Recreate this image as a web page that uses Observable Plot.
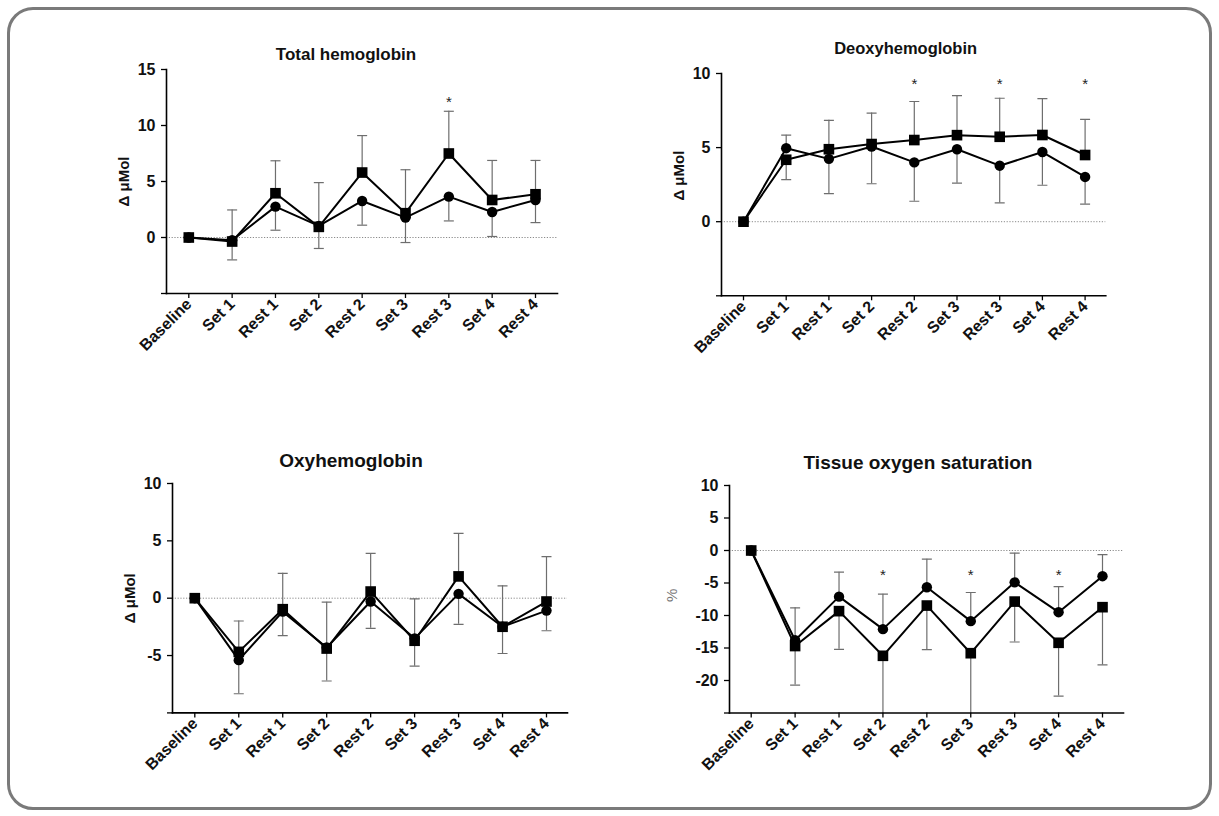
<!DOCTYPE html>
<html><head><meta charset="utf-8">
<script src="https://cdn.jsdelivr.net/npm/d3@7"></script>
<script src="https://cdn.jsdelivr.net/npm/@observablehq/plot@0.6"></script>
<style>
body{margin:0;background:#fff;}
#wrap{position:relative;width:1219px;height:816px;overflow:hidden;background:#fff;}
#border{position:absolute;left:7px;top:7px;width:1205px;height:803px;box-sizing:border-box;border:3px solid #7a7a7a;border-radius:26px;}
.panel{position:absolute;}
.panel svg{background:transparent;overflow:visible;}
</style></head><body><div id="wrap"><div id="border"></div></div>
<script>
const categories = ["Baseline","Set 1","Rest 1","Set 2","Rest 2","Set 3","Rest 3","Set 4","Rest 4"];

// Total hemoglobin (Δ µMol)
const thbSquare = [0, -0.36, 3.95, 0.95, 5.8, 2.17, 7.5, 3.35, 3.86];
const thbCircle = [0, -0.25, 2.76, 1.04, 3.26, 1.78, 3.65, 2.28, 3.35];
const thbUpper  = [null, 2.46, 6.85, 4.9, 9.1, 6.05, 11.27, 6.88, 6.88];
const thbLower  = [null, -2.0, 0.65, -0.98, 1.1, -0.45, 1.48, 0.09, 1.33];
const thbStars  = [6];
const thbStarY  = 12.4;
const thbTicks  = [-5, 0, 5, 10, 15];

// Deoxyhemoglobin (Δ µMol)
const hhbSquare = [0, 4.18, 4.89, 5.24, 5.51, 5.84, 5.73, 5.85, 4.5];
const hhbCircle = [0, 4.96, 4.24, 5.07, 4.0, 4.89, 3.78, 4.7, 3.02];
const hhbUpper  = [null, 5.84, 6.84, 7.33, 8.11, 8.51, 8.33, 8.3, 6.9];
const hhbLower  = [null, 2.84, 1.89, 2.56, 1.38, 2.6, 1.27, 2.46, 1.18];
const hhbStars  = [4, 6, 8];
const hhbStarY  = 9.5;
const hhbTicks  = [-5, 0, 5, 10];

// Oxyhemoglobin (Δ µMol)
const o2hbSquare = [0, -4.68, -0.96, -4.39, 0.58, -3.71, 1.9, -2.49, -0.29];
const o2hbCircle = [0, -5.4, -1.17, -4.3, -0.29, -3.5, 0.38, -2.49, -1.08];
const o2hbUpper  = [null, -1.99, 2.17, -0.35, 3.9, -0.06, 5.65, 1.08, 3.62];
const o2hbLower  = [null, -8.33, -3.27, -7.22, -2.63, -5.93, -2.28, -4.82, -2.84];
const o2hbStars  = [];
const o2hbStarY  = 0;
const o2hbTicks  = [-10, -5, 0, 5, 10];

// Tissue oxygen saturation (%)
const tsiSquare = [0, -14.7, -9.33, -16.2, -8.47, -15.8, -7.86, -14.2, -8.72];
const tsiCircle = [0, -13.8, -7.1, -12.1, -5.66, -10.87, -4.9, -9.49, -3.95];
const tsiUpper  = [null, -8.82, -3.33, -6.72, -1.33, -6.46, -0.41, -5.56, -0.62];
const tsiLower  = [null, -20.7, -15.2, -27, -15.26, -27, -14.08, -22.4, -17.6];
const tsiStars  = [3, 5, 7];
const tsiStarY  = -3.3;
const tsiTicks  = [-25, -20, -15, -10, -5, 0, 5, 10];

const FONT = '"Liberation Sans", Arial, Helvetica, sans-serif';
const ML = 80, MR = 25, MT = 60, MB = 100;

const capSymbol = {
  draw(ctx, size) { const w = Math.sqrt(size / Math.PI); ctx.moveTo(-w, 0); ctx.lineTo(w, 0); }
};

function panel(cfg) {
  const {title, yLabel, sq, ci, upper, lower, stars, starY, ticks, frame} = cfg;
  const [axX, firstX, lastX, endX, topY, botY] = frame;
  const step = (lastX - firstX) / (categories.length - 1);
  const lo = -(firstX - axX) / step;
  const hi = (categories.length - 1) + (endX - lastX) / step;
  const yMin = ticks[0], yMax = ticks[ticks.length - 1];
  const rows = categories.map((c, i) => ({i, c, sq: sq[i], ci: ci[i], up: upper[i], dn: lower[i]}));
  const eb = rows.filter(d => d.up != null);
  const starRows = stars.map(i => ({i, y: starY}));
  const chart = Plot.plot({
    width: endX - axX + ML + MR,
    height: botY - topY + MT + MB,
    marginLeft: ML, marginRight: MR, marginTop: MT, marginBottom: MB,
    x: {type: "linear", domain: [lo, hi]},
    y: {type: "linear", domain: [yMin, yMax]},
    style: {fontFamily: FONT, fontSize: "16px", fontWeight: "bold", color: "#111", background: "transparent", overflow: "visible"},
    marks: [
      Plot.ruleY([0], {stroke: "#8a8a8a", strokeWidth: 1, strokeDasharray: "1.2,1.6"}),
      Plot.ruleX(eb, {x: "i", y1: d => Math.max(d.sq, d.ci), y2: "up", stroke: "#6e6e6e", strokeWidth: 1.2, clip: true}),
      Plot.ruleX(eb, {x: "i", y1: d => Math.min(d.sq, d.ci), y2: "dn", stroke: "#6e6e6e", strokeWidth: 1.2, clip: true}),
      Plot.dot(eb, {x: "i", y: "up", symbol: capSymbol, r: 5, fill: "none", stroke: "#6e6e6e", strokeWidth: 1.2, clip: true}),
      Plot.dot(eb, {x: "i", y: "dn", symbol: capSymbol, r: 5, fill: "none", stroke: "#6e6e6e", strokeWidth: 1.2, clip: true}),
      Plot.line(rows, {x: "i", y: "ci", stroke: "#000", strokeWidth: 2}),
      Plot.line(rows, {x: "i", y: "sq", stroke: "#000", strokeWidth: 2}),
      Plot.dot(rows, {x: "i", y: "ci", r: 5.2, fill: "#000", stroke: "none"}),
      Plot.dot(rows, {x: "i", y: "sq", symbol: "square", r: 6, fill: "#000", stroke: "none"}),
      Plot.text(starRows, {x: "i", y: "y", text: () => "*", fontSize: 15, fontWeight: "normal", fill: "#222", dy: 3.5}),
      Plot.axisY({ticks, label: null, tickFormat: d => (d === yMin ? "" : String(d)), tickSize: 5, tickPadding: 6, fontSize: 16, fontWeight: "bold", stroke: "#000", strokeWidth: 1.3, fill: "#111"}),
      Plot.axisX({ticks: d3.range(categories.length), label: null, tickFormat: i => categories[i], tickRotate: -45, tickSize: 5, tickPadding: 3, fontSize: 16, fontWeight: "bold", stroke: "#000", strokeWidth: 1.3, fill: "#111"}),
      Plot.frame({anchor: "left", stroke: "#000", strokeWidth: 1.6}),
      Plot.frame({anchor: "bottom", stroke: "#000", strokeWidth: 1.6}),
      Plot.text([title], {frameAnchor: "top", lineAnchor: "bottom", dx: cfg.titleDx, dy: cfg.titleDy, fontSize: cfg.titleSize, fontWeight: "bold", fill: "#111"}),
      Plot.text([yLabel], {frameAnchor: "left", rotate: -90, textAnchor: "middle", lineAnchor: "middle", dx: cfg.labelDx, dy: cfg.labelDy, fontSize: 15, fontWeight: cfg.labelWeight, fill: cfg.labelColor})
    ]
  });
  const div = document.createElement("div");
  div.className = "panel";
  div.style.left = (axX - ML) + "px";
  div.style.top = (topY - MT) + "px";
  div.appendChild(chart);
  document.getElementById("wrap").appendChild(div);
}

panel({title: "Total hemoglobin", yLabel: "Δ μMol", sq: thbSquare, ci: thbCircle, upper: thbUpper, lower: thbLower,
  stars: thbStars, starY: thbStarY, ticks: thbTicks, frame: [166, 188.3, 535, 557, 69, 293],
  titleSize: 17, titleDx: -16, titleDy: -10, labelDx: -42, labelDy: 0, labelWeight: "bold", labelColor: "#111"});
panel({title: "Deoxyhemoglobin", yLabel: "Δ μMol", sq: hhbSquare, ci: hhbCircle, upper: hhbUpper, lower: hhbLower,
  stars: hhbStars, starY: hhbStarY, ticks: hhbTicks, frame: [720.7, 742.7, 1084.3, 1105, 72.7, 295],
  titleSize: 16.5, titleDx: -8, titleDy: -19, labelDx: -42, labelDy: -9, labelWeight: "bold", labelColor: "#111"});
panel({title: "Oxyhemoglobin", yLabel: "Δ μMol", sq: o2hbSquare, ci: o2hbCircle, upper: o2hbUpper, lower: o2hbLower,
  stars: o2hbStars, starY: o2hbStarY, ticks: o2hbTicks, frame: [171.7, 194, 545.7, 566.7, 483.3, 712.7],
  titleSize: 19, titleDx: -19, titleDy: -16, labelDx: -42, labelDy: 0, labelWeight: "bold", labelColor: "#111"});
panel({title: "Tissue oxygen saturation", yLabel: "%", sq: tsiSquare, ci: tsiCircle, upper: tsiUpper, lower: tsiLower,
  stars: tsiStars, starY: tsiStarY, ticks: tsiTicks, frame: [729.3, 751, 1102.3, 1123.3, 485, 712.5],
  titleSize: 19, titleDx: -8.5, titleDy: -16.5, labelDx: -57, labelDy: -4, labelWeight: "normal", labelColor: "#777"});
</script>
</body></html>
